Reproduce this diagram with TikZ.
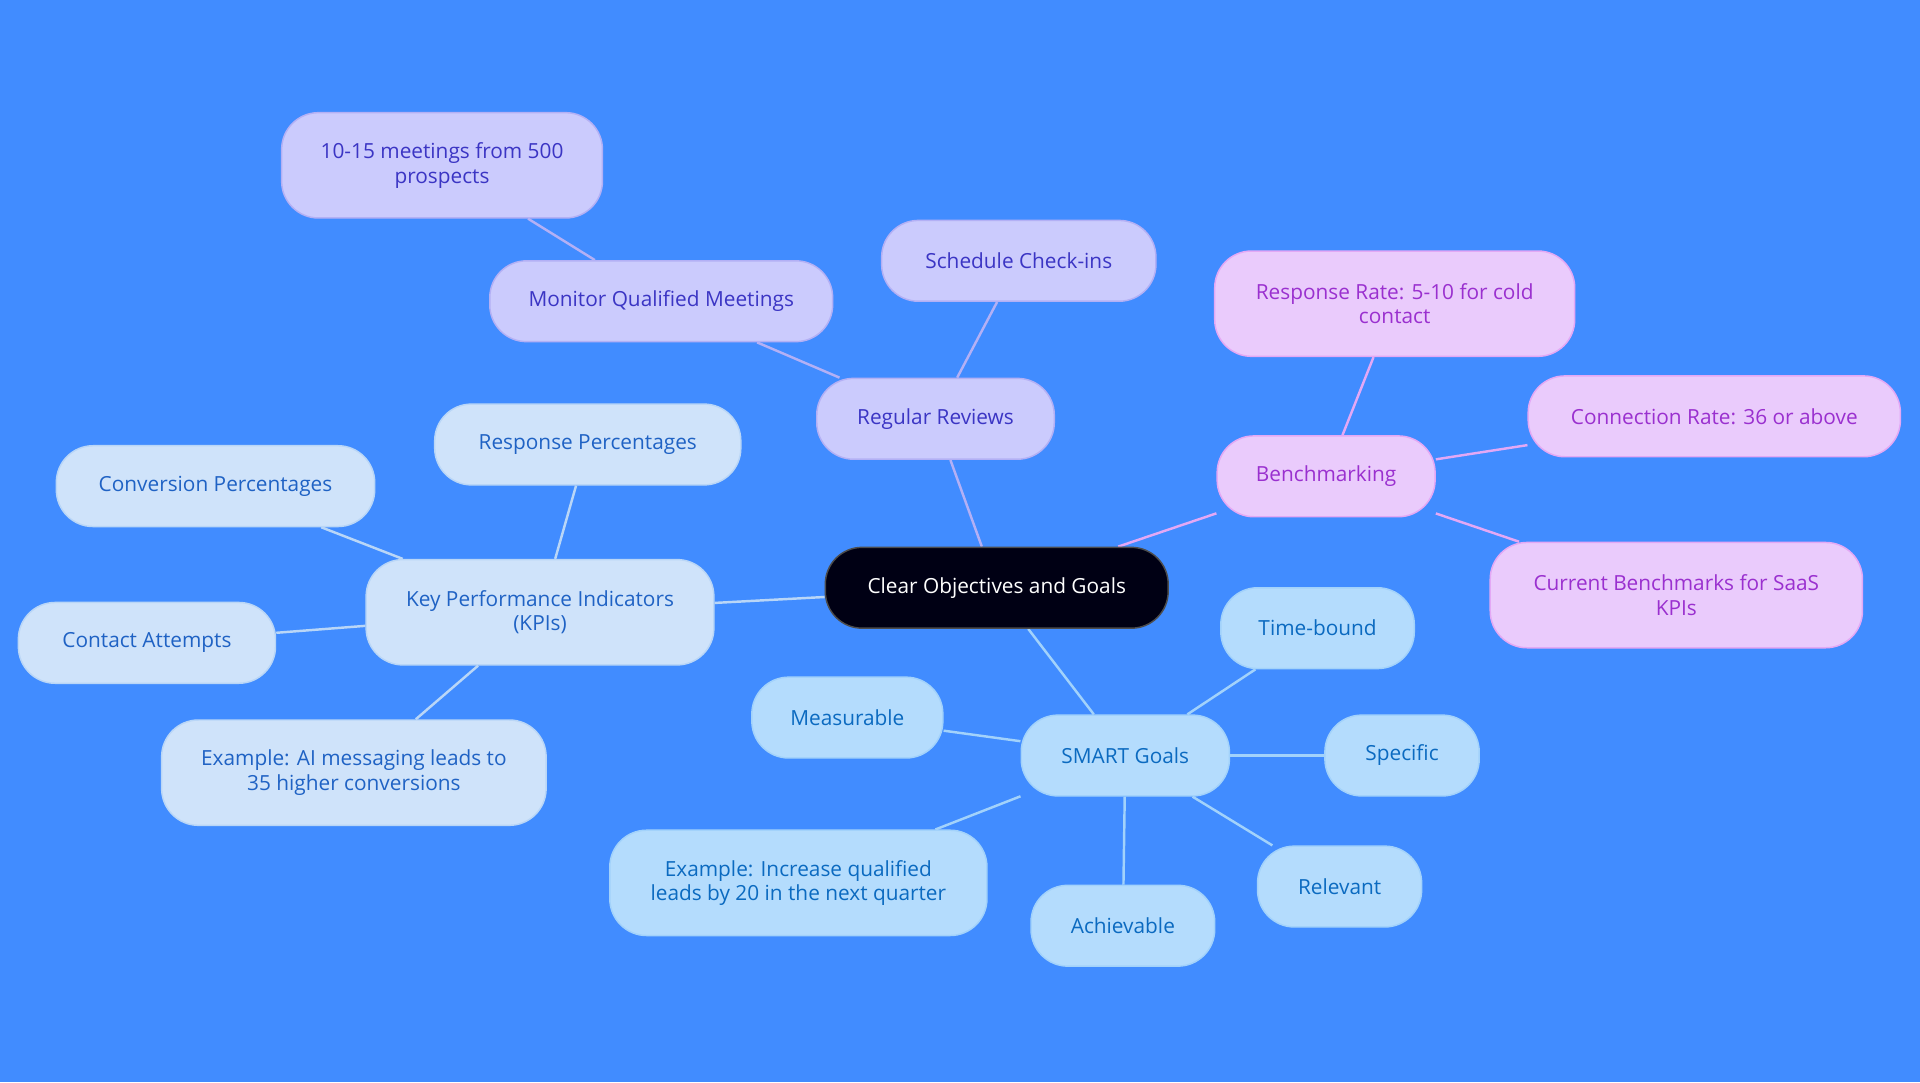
\documentclass[tikz,border=0pt]{standalone}
\usepackage{fontspec}
\setmainfont{Open Sans}
\usetikzlibrary{backgrounds}
\definecolor{bg}{HTML}{418CFF}
\definecolor{pf}{HTML}{CBCBFD}\definecolor{pt}{HTML}{3B35C4}\definecolor{pec}{HTML}{B3B0F5}
\definecolor{mf}{HTML}{EACBFC}\definecolor{mt}{HTML}{9A30CF}\definecolor{mec}{HTML}{E3A8F5}
\definecolor{kf}{HTML}{CFE3FA}\definecolor{kt}{HTML}{1F62C4}\definecolor{kec}{HTML}{B9D6F7}
\definecolor{sf}{HTML}{B4DCFD}\definecolor{st}{HTML}{0B6AC0}\definecolor{sec}{HTML}{A2D2FB}
\tikzset{
 bx/.style={rounded corners=30pt,minimum height=66pt,align=center,font=\fontsize{17}{20}\selectfont,line width=1.2pt,inner sep=0pt},
 pb/.style={bx,fill=pf,draw=pec,text=pt},
 mb/.style={bx,fill=mf,draw=mec,text=mt},
 kb/.style={bx,fill=kf,draw=kec,text=kt},
 sb/.style={bx,fill=sf,draw=sec,text=st},
 pl/.style={draw=pec,line width=2pt},
 ml/.style={draw=mec,line width=2pt},
 kl/.style={draw=kec,line width=2pt},
 sl/.style={draw=sec,line width=2pt},
}
\begin{document}
\begin{tikzpicture}[x=1pt,y=-1pt]
\node[bx,fill=black!92!blue,draw=black!70,text=white,minimum width=280pt] (c) at (814,480) {Clear Objectives and Goals};
\node[pb,minimum width=194pt] (rr) at (764,342) {Regular Reviews};
\node[pb,minimum width=280pt] (mq) at (540,246) {Monitor Qualified Meetings};
\node[pb,minimum width=262pt,minimum height=86pt] (m10) at (361,135) {10-15 meetings from 500\\prospects};
\node[pb,minimum width=224pt] (sc) at (832,213) {Schedule Check-ins};
\node[mb,minimum width=178pt] (bm) at (1083,389) {Benchmarking};
\node[mb,minimum width=294pt,minimum height=86pt] (rrt) at (1139,248) {Response Rate: 5-10 for cold\\contact};
\node[mb,minimum width=304pt] (cr) at (1400,340) {Connection Rate: 36 or above};
\node[mb,minimum width=304pt,minimum height=86pt] (cb) at (1369,486) {Current Benchmarks for SaaS\\KPIs};
\node[kb,minimum width=284pt,minimum height=86pt] (kpi) at (441,500) {Key Performance Indicators\\(KPIs)};
\node[kb,minimum width=250pt] (rp) at (480,363) {Response Percentages};
\node[kb,minimum width=260pt] (cp) at (176,397) {Conversion Percentages};
\node[kb,minimum width=210pt] (ca) at (120,525) {Contact Attempts};
\node[kb,minimum width=314pt,minimum height=86pt] (eai) at (289,631) {Example: AI messaging leads to\\35 higher conversions};
\node[sb,minimum width=170pt] (sg) at (919,617) {SMART Goals};
\node[sb,minimum width=156pt] (ms) at (692,586) {Measurable};
\node[sb,minimum width=158pt] (tb) at (1076,513) {Time-bound};
\node[sb,minimum width=126pt] (sp) at (1145,617) {Specific};
\node[sb,minimum width=134pt] (rl) at (1094,724) {Relevant};
\node[sb,minimum width=150pt] (ac) at (917,756) {Achievable};
\node[sb,minimum width=308pt,minimum height=86pt] (eq) at (652,721) {Example: Increase qualified\\leads by 20 in the next quarter};
\begin{pgfonlayer}{background}
\fill[bg] (0,0) rectangle (1568,884);
\draw[pl] (c)--(rr); \draw[pl] (rr)--(mq); \draw[pl] (mq)--(m10); \draw[pl] (rr)--(sc);
\draw[ml] (c)--(bm); \draw[ml] (bm)--(rrt); \draw[ml] (bm)--(cr); \draw[ml] (bm)--(cb);
\draw[kl] (c)--(kpi); \draw[kl] (kpi)--(rp); \draw[kl] (kpi)--(cp); \draw[kl] (kpi)--(ca); \draw[kl] (kpi)--(eai);
\draw[sl] (c)--(sg); \draw[sl] (sg)--(ms); \draw[sl] (sg)--(tb); \draw[sl] (sg)--(sp); \draw[sl] (sg)--(rl); \draw[sl] (sg)--(ac); \draw[sl] (sg)--(eq);
\end{pgfonlayer}
\end{tikzpicture}
\end{document}
